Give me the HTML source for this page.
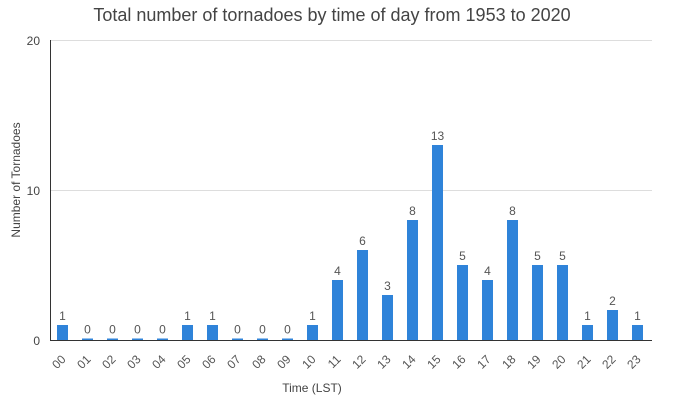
<!DOCTYPE html>
<html><head><style>body{margin:0;background:#fff}</style></head><body>
<svg width="700" height="400" xmlns="http://www.w3.org/2000/svg" font-family="Liberation Sans, sans-serif">
<rect width="700" height="400" fill="#fff"/>
<text x="332" y="21" font-size="18" fill="#444" text-anchor="middle">Total number of tornadoes by time of day from 1953 to 2020</text>
<line x1="50" y1="40.5" x2="652" y2="40.5" stroke="#ddd"/>
<line x1="50" y1="190.5" x2="652" y2="190.5" stroke="#ddd"/>
<line x1="50.5" y1="40" x2="50.5" y2="340" stroke="#333"/>
<line x1="50" y1="340.5" x2="652" y2="340.5" stroke="#333"/>
<g font-size="12" fill="#444" text-anchor="end">
<text x="40" y="45">20</text><text x="40" y="195">10</text><text x="40" y="345">0</text>
</g>
<text transform="translate(20,180) rotate(-90)" font-size="12" fill="#444" text-anchor="middle">Number of Tornadoes</text>
<text x="312" y="392" font-size="12" fill="#444" text-anchor="middle">Time (LST)</text>
<g fill="#2f83d9">
<rect x="57" y="325" width="11" height="15"/>
<rect x="82" y="338.5" width="11" height="1.5"/>
<rect x="107" y="338.5" width="11" height="1.5"/>
<rect x="132" y="338.5" width="11" height="1.5"/>
<rect x="157" y="338.5" width="11" height="1.5"/>
<rect x="182" y="325" width="11" height="15"/>
<rect x="207" y="325" width="11" height="15"/>
<rect x="232" y="338.5" width="11" height="1.5"/>
<rect x="257" y="338.5" width="11" height="1.5"/>
<rect x="282" y="338.5" width="11" height="1.5"/>
<rect x="307" y="325" width="11" height="15"/>
<rect x="332" y="280" width="11" height="60"/>
<rect x="357" y="250" width="11" height="90"/>
<rect x="382" y="295" width="11" height="45"/>
<rect x="407" y="220" width="11" height="120"/>
<rect x="432" y="145" width="11" height="195"/>
<rect x="457" y="265" width="11" height="75"/>
<rect x="482" y="280" width="11" height="60"/>
<rect x="507" y="220" width="11" height="120"/>
<rect x="532" y="265" width="11" height="75"/>
<rect x="557" y="265" width="11" height="75"/>
<rect x="582" y="325" width="11" height="15"/>
<rect x="607" y="310" width="11" height="30"/>
<rect x="632" y="325" width="11" height="15"/>
</g>
<g font-size="12" fill="#555" text-anchor="middle">
<text x="62.5" y="320">1</text>
<text x="87.5" y="333.5">0</text>
<text x="112.5" y="333.5">0</text>
<text x="137.5" y="333.5">0</text>
<text x="162.5" y="333.5">0</text>
<text x="187.5" y="320">1</text>
<text x="212.5" y="320">1</text>
<text x="237.5" y="333.5">0</text>
<text x="262.5" y="333.5">0</text>
<text x="287.5" y="333.5">0</text>
<text x="312.5" y="320">1</text>
<text x="337.5" y="275">4</text>
<text x="362.5" y="245">6</text>
<text x="387.5" y="290">3</text>
<text x="412.5" y="215">8</text>
<text x="437.5" y="140">13</text>
<text x="462.5" y="260">5</text>
<text x="487.5" y="275">4</text>
<text x="512.5" y="215">8</text>
<text x="537.5" y="260">5</text>
<text x="562.5" y="260">5</text>
<text x="587.5" y="320">1</text>
<text x="612.5" y="305">2</text>
<text x="637.5" y="320">1</text>
</g>
<g font-size="12" fill="#555" text-anchor="end">
<text transform="translate(66.5,360) rotate(-45)">00</text>
<text transform="translate(91.5,360) rotate(-45)">01</text>
<text transform="translate(116.5,360) rotate(-45)">02</text>
<text transform="translate(141.5,360) rotate(-45)">03</text>
<text transform="translate(166.5,360) rotate(-45)">04</text>
<text transform="translate(191.5,360) rotate(-45)">05</text>
<text transform="translate(216.5,360) rotate(-45)">06</text>
<text transform="translate(241.5,360) rotate(-45)">07</text>
<text transform="translate(266.5,360) rotate(-45)">08</text>
<text transform="translate(291.5,360) rotate(-45)">09</text>
<text transform="translate(316.5,360) rotate(-45)">10</text>
<text transform="translate(341.5,360) rotate(-45)">11</text>
<text transform="translate(366.5,360) rotate(-45)">12</text>
<text transform="translate(391.5,360) rotate(-45)">13</text>
<text transform="translate(416.5,360) rotate(-45)">14</text>
<text transform="translate(441.5,360) rotate(-45)">15</text>
<text transform="translate(466.5,360) rotate(-45)">16</text>
<text transform="translate(491.5,360) rotate(-45)">17</text>
<text transform="translate(516.5,360) rotate(-45)">18</text>
<text transform="translate(541.5,360) rotate(-45)">19</text>
<text transform="translate(566.5,360) rotate(-45)">20</text>
<text transform="translate(591.5,360) rotate(-45)">21</text>
<text transform="translate(616.5,360) rotate(-45)">22</text>
<text transform="translate(641.5,360) rotate(-45)">23</text>
</g>
</svg>
</body></html>
